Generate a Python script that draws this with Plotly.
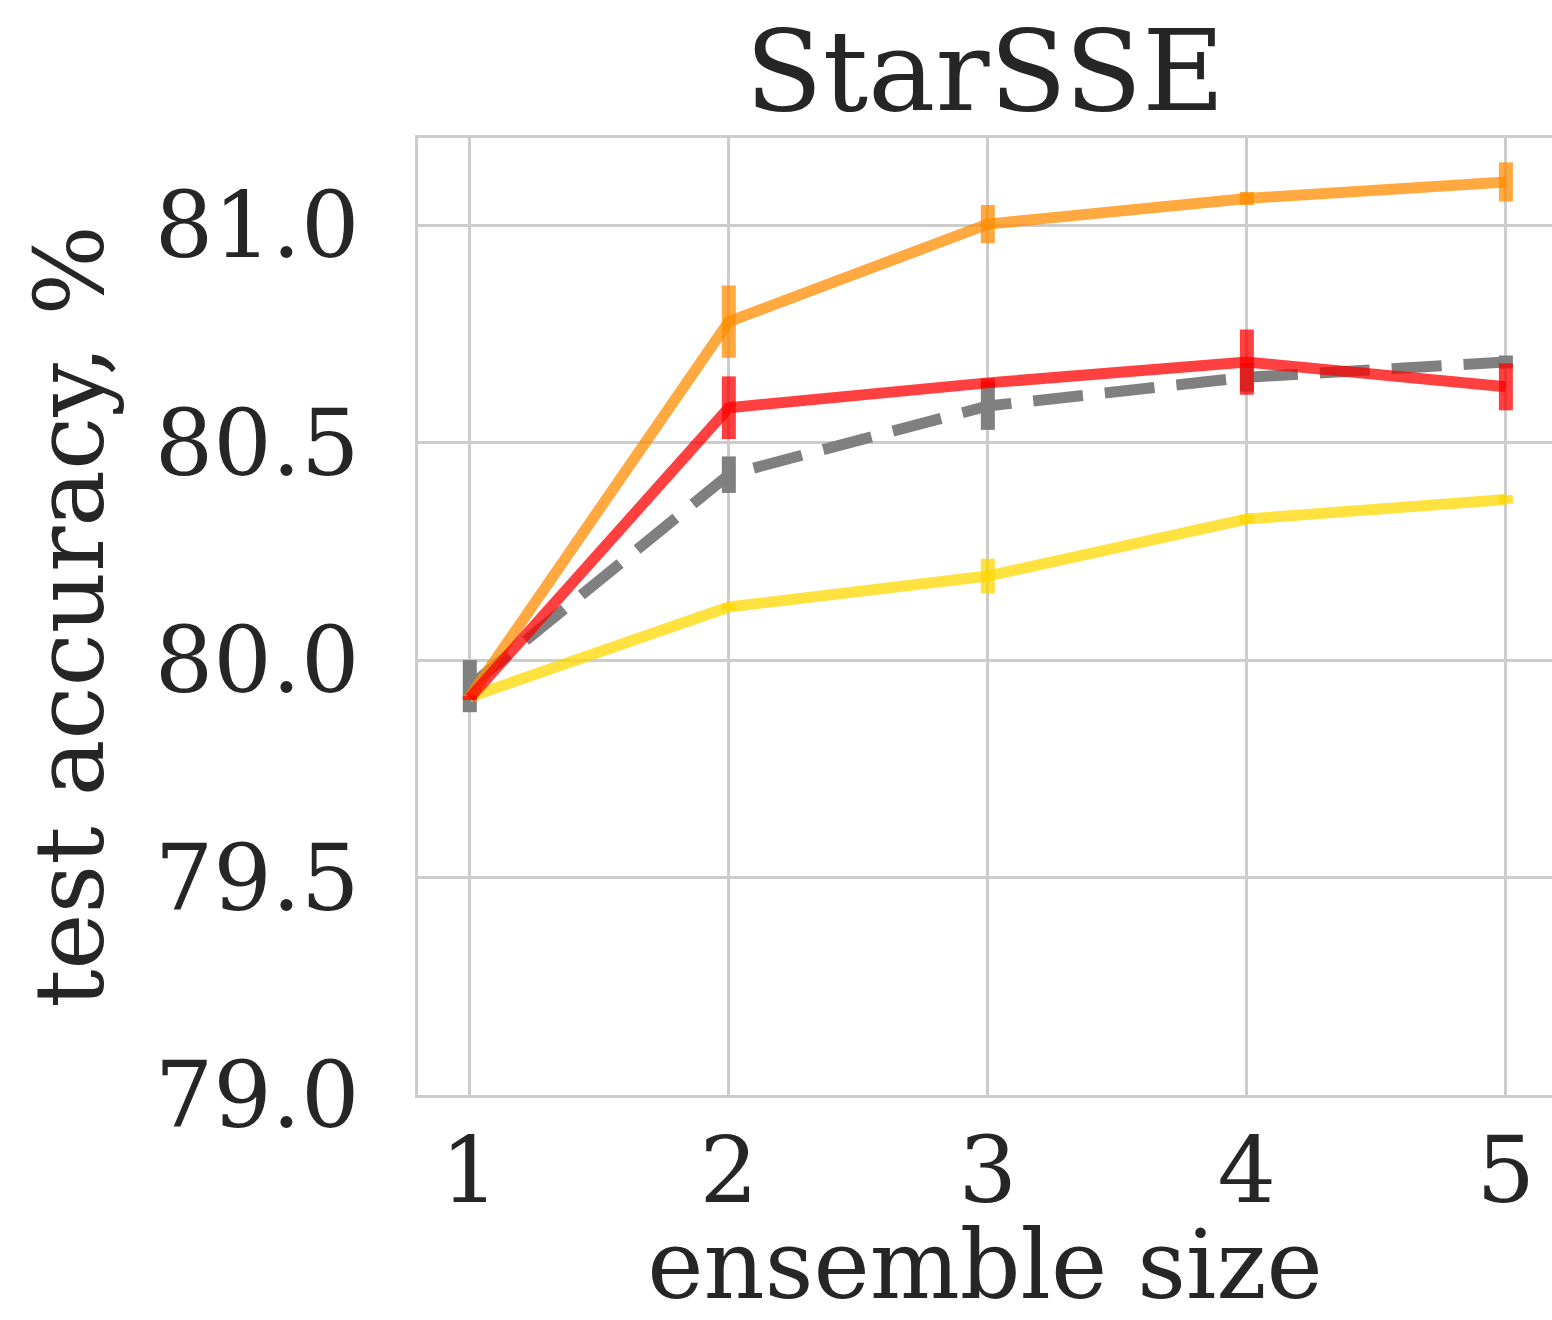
import plotly.graph_objects as go

ensemble_size = [1, 2, 3, 4, 5]

gray_mean = [79.94, 80.426, 80.584, 80.65, 80.685]
gray_err = [0.06, 0.042, 0.055, 0.033, 0.015]

yellow_mean = [79.915, 80.122, 80.193, 80.324, 80.369]
yellow_err = [0.005, 0.008, 0.04, 0.01, 0.01]

orange_mean = [79.915, 80.778, 81.002, 81.061, 81.099]
orange_err = [0.005, 0.083, 0.044, 0.015, 0.045]

red_mean = [79.913, 80.58, 80.637, 80.685, 80.628]
red_err = [0.005, 0.072, 0.01, 0.075, 0.054]

y_ticks = [79.0, 79.5, 80.0, 80.5, 81.0]
x_ticks = [1, 2, 3, 4, 5]

FONT = "DejaVu Serif"
TXT = "#262626"
GRID = "#cccccc"

series = [
    (gray_mean, gray_err, "rgba(128,128,128,1)", "50px,22px"),
    (yellow_mean, yellow_err, "rgba(255,215,0,0.75)", "solid"),
    (orange_mean, orange_err, "rgba(255,140,0,0.75)", "solid"),
    (red_mean, red_err, "rgba(255,0,0,0.75)", "solid"),
]

fig = go.Figure()
for mean, err, col, dash in series:
    fig.add_trace(go.Scatter(
        x=ensemble_size, y=mean, mode="lines",
        line=dict(color=col, width=11, dash=dash),
        error_y=dict(type="data", array=err, visible=True, color=col,
                     thickness=14, width=0),
        showlegend=False,
    ))

fig.update_layout(
    width=1552, height=1320,
    margin=dict(l=418, r=0, t=138, b=225),
    paper_bgcolor="white", plot_bgcolor="white",
    font=dict(family=FONT, color=TXT, size=92),
    title=dict(text="StarSSE", x=0.5, xanchor="center", xref="paper",
               y=1 - 70 / 1320, yanchor="middle", yref="container",
               font=dict(family=FONT, size=113, color=TXT)),
)
fig.update_xaxes(
    range=[0.8, 5.178], tickvals=x_ticks, ticktext=[str(v) for v in x_ticks],
    showgrid=True, gridcolor=GRID, gridwidth=3,
    showline=True, linecolor=GRID, linewidth=3, mirror=True,
    zeroline=False, ticks="", ticklabelstandoff=-6,
    tickfont=dict(family=FONT, size=92, color=TXT),
    title=dict(text="ensemble size", standoff=46,
               font=dict(family=FONT, size=95, color=TXT)),
    automargin=False,
)
fig.update_yaxes(
    range=[79.0, 81.2], tickvals=y_ticks, ticktext=[f"{v:.1f}" for v in y_ticks],
    showgrid=True, gridcolor=GRID, gridwidth=3,
    showline=True, linecolor=GRID, linewidth=3, mirror=False,
    zeroline=False, ticks="", ticklabelstandoff=37,
    tickfont=dict(family=FONT, size=92, color=TXT),
    title=dict(text="test accuracy, %", standoff=20,
               font=dict(family=FONT, size=95, color=TXT)),
    automargin=False,
)

fig.write_html("out.html")
